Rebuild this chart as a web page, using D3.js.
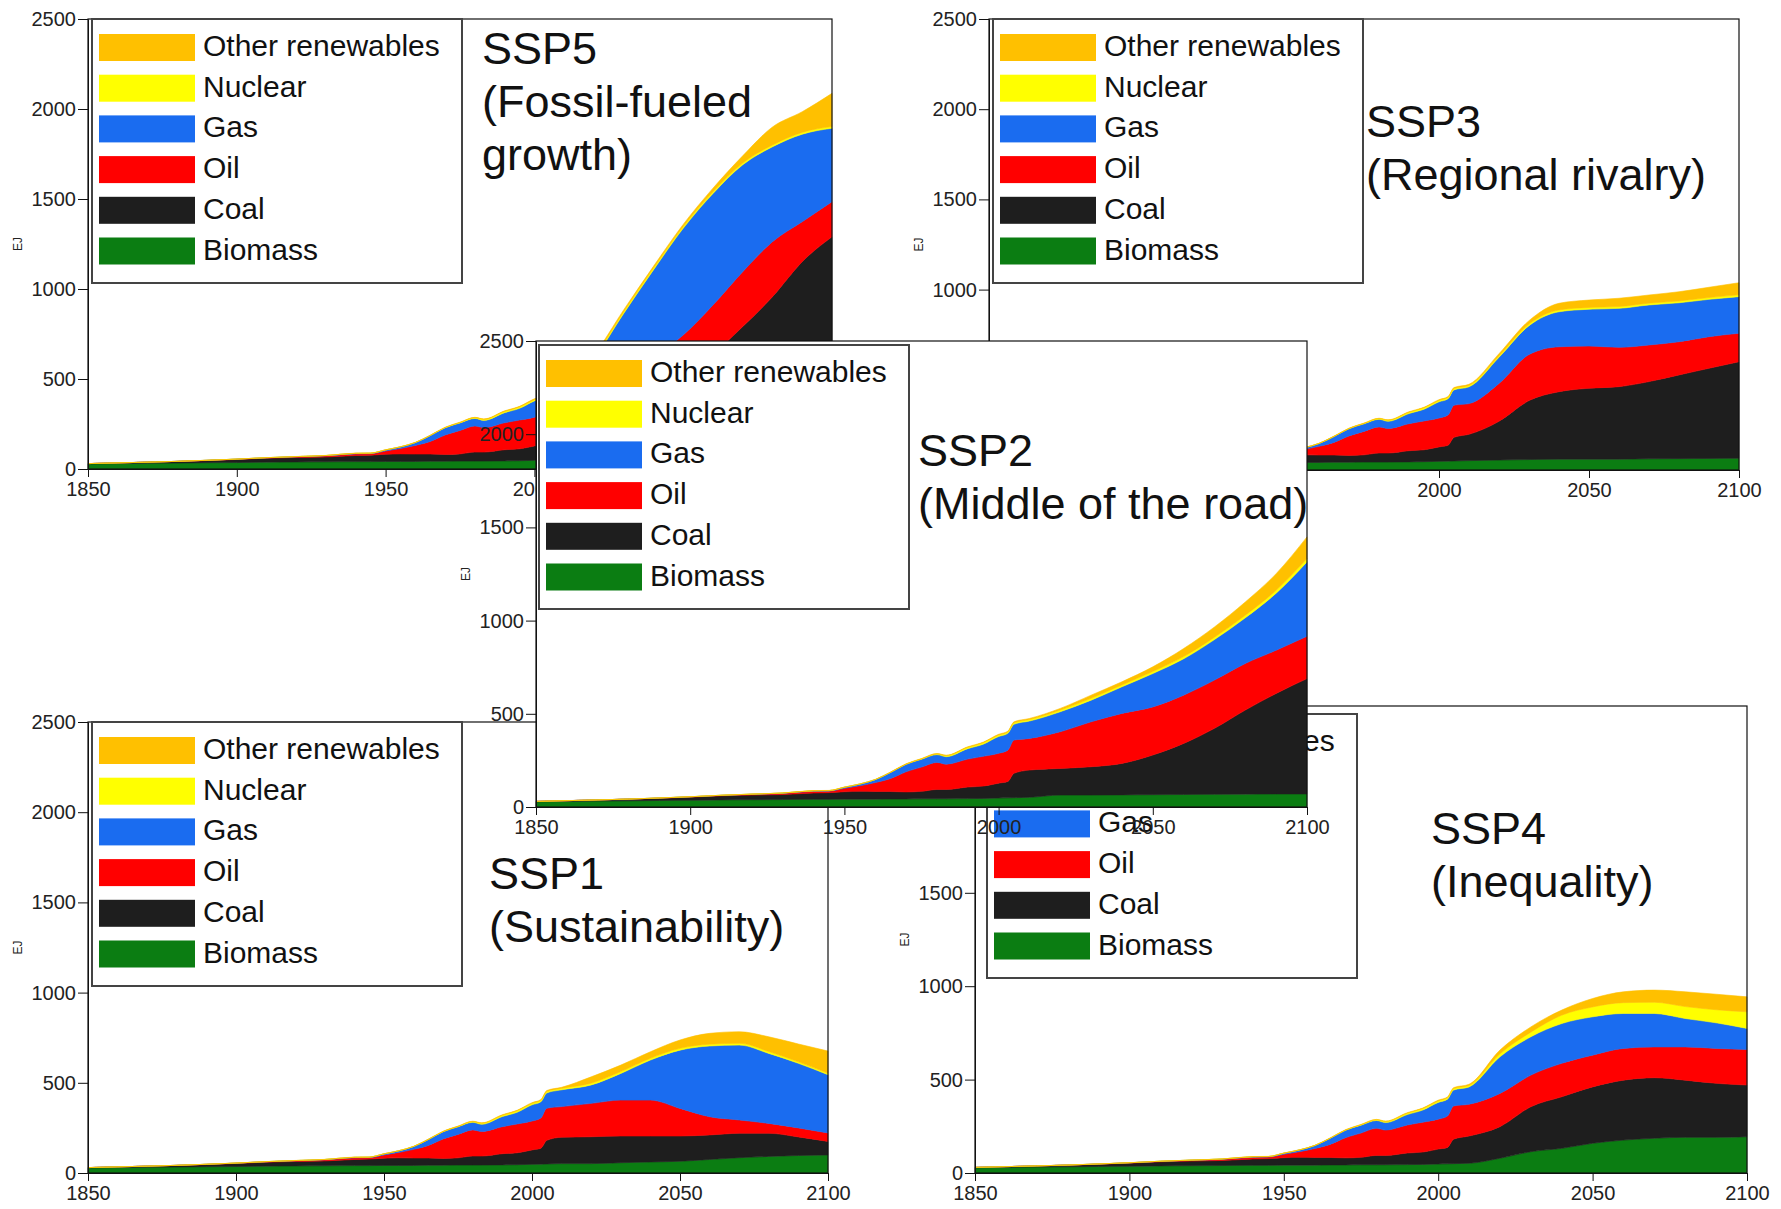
<!DOCTYPE html>
<html>
<head>
<meta charset="utf-8">
<script src="https://cdn.jsdelivr.net/npm/d3@7"></script>
<style>
  body { margin: 0; background: #fff; }
  svg { font-family: "Liberation Sans", Arial, sans-serif; }
  .tick text { fill: #222; }
</style>
</head>
<body>
<script>
// fuels, bottom of the stack first
const fuels = ["Biomass", "Coal", "Oil", "Gas", "Nuclear", "Other renewables"];
const fuelColors = ["#0b7d12", "#1e1e1e", "#ff0000", "#1a6cf0", "#ffff00", "#ffc000"];

const xTicks = [1850, 1900, 1950, 2000, 2050, 2100];
const yTicks = [0, 500, 1000, 1500, 2000, 2500];

// shared history (EJ)
const histYears   = [1850,1860,1870,1880,1890,1900,1910,1920,1930,1940,1945,1950,1955,1960,1965,1970,1975,1980,1983,1990,1995,2000,2003,2005,2010];
const histBiomass = [28,30,32,33,35,36,38,39,40,41,41,42,42,42,43,43,44,44,44,45,46,48,49,50,52];
const histCoal    = [2,4,6,9,12,17,22,25,27,34,36,40,42,41,40,38,40,50,50,62,66,80,88,131,146];
const histOil     = [0,0,0,0.5,1,1.5,2,4,6,9,8,18,30,48,70,108,130,145,136,150,160,160,168,178,170];
const histGas     = [0,0,0,0,0.5,0.5,1,1,2,3,3,6,9,16,33,40,42,42,40,56,65,90,90,85,93];
const histNuclear = [0,0,0,0,0,0,0,0,0,0,0,0,0,0,0,1,2,4,6,7,8,8,8,8,8];
const histOther   = [0,0,0,0,0,0,0,0.5,0.5,1,1,1,1,1,2,2,2,2,2,3,3,4,4,5,6];

// scenarios
const futureYears = [2020,2030,2040,2050,2060,2070,2080,2090,2100];

const ssp1Biomass = [52,57,61,65,75,85,92,97,100];
const ssp1Coal    = [149,148,144,140,136,135,128,103,75];
const ssp1Oil     = [185,199,199,153,101,74,55,50,47];
const ssp1Gas     = [102,148,222,323,392,415,388,358,323];
const ssp1Nuclear = [10,10,10,10,10,10,10,8,8];
const ssp1Other   = [35,36,36,46,60,64,82,99,123];

const ssp2Biomass = [64,64,65,66,67,68,69,70,70];
const ssp2Coal    = [143,152,169,213,274,354,451,539,619];
const ssp2Oil     = [197,241,268,258,259,259,250,232,227];
const ssp2Gas     = [107,116,143,179,195,217,245,306,399];
const ssp2Nuclear = [9,10,10,11,12,13,14,16,18];
const ssp2Other   = [9,17,17,25,43,55,71,89,116];

const ssp3Biomass = [55,58,60,60,60,62,63,64,65];
const ssp3Coal    = [215,327,374,393,402,428,464,500,535];
const ssp3Oil     = [210,255,249,234,218,203,184,175,158];
const ssp3Gas     = [145,160,194,204,216,222,216,207,203];
const ssp3Nuclear = [8,9,10,10,10,10,10,10,10];
const ssp3Other   = [12,19,37,41,46,45,51,57,67];

const ssp4Biomass = [79,114,132,159,176,186,191,191,194];
const ssp4Coal    = [169,241,276,302,321,324,306,289,277];
const ssp4Oil     = [178,169,179,170,170,165,178,187,190];
const ssp4Gas     = [196,205,213,205,187,179,152,137,113];
const ssp4Nuclear = [16,25,45,53,58,60,64,70,89];
const ssp4Other   = [20,28,27,45,58,65,79,83,80];

const ssp5Biomass = [65,75,85,90,95,100,100,100,100];
const ssp5Coal    = [175,255,355,450,545,691,857,1052,1190];
const ssp5Oil     = [160,170,180,204,271,305,306,222,195];
const ssp5Gas     = [215,364,486,593,619,594,527,486,408];
const ssp5Nuclear = [10,10,10,10,10,10,10,10,10];
const ssp5Other   = [10,10,10,12,20,40,100,115,184];

const titles = {
  SSP1: ["SSP1", "(Sustainability)"],
  SSP2: ["SSP2", "(Middle of the road)"],
  SSP3: ["SSP3", "(Regional rivalry)"],
  SSP4: ["SSP4", "(Inequality)"],
  SSP5: ["SSP5", "(Fossil-fueled", "growth)"]
};

// layout of each panel on the page (drawing order = stacking order)
const panels = [
  { id: "SSP5", series: [ssp5Biomass, ssp5Coal, ssp5Oil, ssp5Gas, ssp5Nuclear, ssp5Other],
    x0: 88, x1: 832, top: 19, bottom: 469, legend: [92, 19], title: [482, 64] },
  { id: "SSP3", series: [ssp3Biomass, ssp3Coal, ssp3Oil, ssp3Gas, ssp3Nuclear, ssp3Other],
    x0: 989, x1: 1739, top: 19, bottom: 470, legend: [993, 19], title: [1366, 137] },
  { id: "SSP1", series: [ssp1Biomass, ssp1Coal, ssp1Oil, ssp1Gas, ssp1Nuclear, ssp1Other],
    x0: 88, x1: 828, top: 722, bottom: 1173, legend: [92, 722], title: [489, 889] },
  { id: "SSP4", series: [ssp4Biomass, ssp4Coal, ssp4Oil, ssp4Gas, ssp4Nuclear, ssp4Other],
    x0: 975, x1: 1747, top: 706, bottom: 1173, legend: [987, 714], title: [1431, 844] },
  { id: "SSP2", series: [ssp2Biomass, ssp2Coal, ssp2Oil, ssp2Gas, ssp2Nuclear, ssp2Other],
    x0: 536, x1: 1307, top: 341, bottom: 807, legend: [539, 345], title: [918, 466], opaque: true }
];

const hist = [histBiomass, histCoal, histOil, histGas, histNuclear, histOther];
const years = histYears.concat(futureYears);

const color = d3.scaleOrdinal().domain(fuels).range(fuelColors);

// the middle panel sits on top of the others
const cover = panels.find(p => p.opaque);
const hidden = (cx, cy) =>
  cx > cover.x0 && cx < cover.x1 && cy > cover.top && cy < cover.bottom;

const svg = d3.select("body").append("svg")
  .attr("width", 1781)
  .attr("height", 1209);

panels.forEach(p => {
  const g = svg.append("g").attr("class", "panel " + p.id);

  const x = d3.scaleLinear().domain([1850, 2100]).range([p.x0, p.x1]);
  const y = d3.scaleLinear().domain([0, 2500]).range([p.bottom, p.top]);

  if (p.opaque) {
    g.append("rect")
      .attr("x", p.x0).attr("y", p.top)
      .attr("width", p.x1 - p.x0).attr("height", p.bottom - p.top)
      .attr("fill", "#fff");
  }

  const rows = years.map((yr, i) => {
    const row = { year: yr };
    fuels.forEach((f, k) => {
      row[f] = i < histYears.length ? hist[k][i] : p.series[k][i - histYears.length];
    });
    return row;
  });

  const stacked = d3.stack().keys(fuels)(rows);

  const area = d3.area()
    .x(d => x(d.data.year))
    .y0(d => y(d[0]))
    .y1(d => y(d[1]))
    .curve(d3.curveMonotoneX);

  g.append("g")
    .selectAll("path")
    .data(stacked)
    .join("path")
    .attr("fill", d => color(d.key))
    .attr("stroke", d => color(d.key))
    .attr("stroke-width", 0.6)
    .attr("d", area);

  // frame
  g.append("rect")
    .attr("x", p.x0).attr("y", p.top)
    .attr("width", p.x1 - p.x0).attr("height", p.bottom - p.top)
    .attr("fill", "none")
    .attr("stroke", "#111")
    .attr("stroke-width", 1.2);

  // axes (labels that would sit under the middle panel are dropped)
  const yAxis = g.append("g")
    .attr("transform", `translate(${p.x0},0)`)
    .call(d3.axisLeft(y).tickValues(yTicks).tickFormat(d3.format("d")).tickSize(10).tickSizeOuter(0).tickPadding(2))
    .call(a => a.selectAll("text").style("font-size", "20px"))
    .call(a => a.selectAll("line, path").attr("stroke", "#111"));
  if (!p.opaque) {
    yAxis.selectAll(".tick text").filter(v => hidden(p.x0 - 35, y(v))).remove();
  }

  const xAxis = g.append("g")
    .attr("transform", `translate(0,${p.bottom})`)
    .call(d3.axisBottom(x).tickValues(xTicks).tickFormat(d3.format("d")).tickSize(8).tickSizeOuter(0).tickPadding(5))
    .call(a => a.selectAll("text").style("font-size", "20px"))
    .call(a => a.selectAll("line, path").attr("stroke", "#111"));
  if (!p.opaque) {
    xAxis.selectAll(".tick text").filter(v => hidden(x(v), p.bottom + 22)).remove();
  }

  // unit label
  g.append("text")
    .attr("transform", `translate(${p.x0 - 66},${(p.top + p.bottom) / 2}) rotate(-90)`)
    .attr("text-anchor", "middle")
    .style("font-size", "12px")
    .attr("fill", "#222")
    .text("EJ");

  // legend, top entry = top of the stack
  const lg = g.append("g").attr("transform", `translate(${p.legend[0]},${p.legend[1]})`);
  lg.append("rect")
    .attr("width", 370).attr("height", 264)
    .attr("fill", "#fff")
    .attr("stroke", "#444")
    .attr("stroke-width", 2);
  const items = fuels.slice().reverse();
  const entry = lg.selectAll("g.entry")
    .data(items)
    .join("g")
    .attr("class", "entry")
    .attr("transform", (d, i) => `translate(7,${15 + i * 40.7})`);
  entry.append("rect")
    .attr("width", 96).attr("height", 27)
    .attr("fill", d => color(d));
  entry.append("text")
    .attr("x", 104).attr("y", 22)
    .style("font-size", "30px")
    .attr("fill", "#111")
    .text(d => d);

  // scenario title
  g.append("g")
    .selectAll("text")
    .data(titles[p.id])
    .join("text")
    .attr("x", p.title[0])
    .attr("y", (d, i) => p.title[1] + i * 53)
    .style("font-size", "45px")
    .attr("fill", "#111")
    .text(d => d);
});
</script>
</body>
</html>
